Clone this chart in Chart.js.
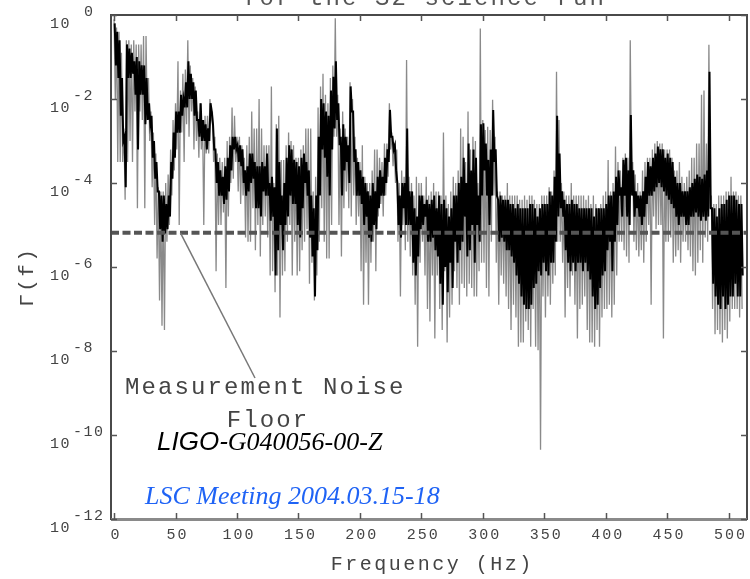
<!DOCTYPE html>
<html>
<head>
<meta charset="utf-8" />
<title>Coherence - S2 science run</title>
<script src="https://cdn.jsdelivr.net/npm/chart.js@4.4.1/dist/chart.umd.min.js"></script>
<style>
  body { margin: 0; background: #ffffff; }
  #wrap { width: 750px; height: 579px; }
</style>
</head>
<body>
<div id="wrap"><canvas id="gammaChart" width="750" height="579"></canvas></div>
<script>
// frequency bins (Hz)
const freqHz = [
  0, 2, 4, 6, 8, 10, 12, 14, 16, 18,
  20, 22, 24, 26, 28, 30, 32, 34, 36, 38,
  40, 42, 44, 46, 48, 50, 52, 54, 56, 58,
  60, 62, 64, 66, 68, 70, 72, 74, 76, 78,
  80, 82, 84, 86, 88, 90, 92, 94, 96, 98,
  100, 102, 104, 106, 108, 110, 112, 114, 116, 118,
  120, 122, 124, 126, 128, 130, 132, 134, 136, 138,
  140, 142, 144, 146, 148, 150, 152, 154, 156, 158,
  160, 162, 164, 166, 168, 170, 172, 174, 176, 178,
  180, 182, 184, 186, 188, 190, 192, 194, 196, 198,
  200, 202, 204, 206, 208, 210, 212, 214, 216, 218,
  220, 222, 224, 226, 228, 230, 232, 234, 236, 238,
  240, 242, 244, 246, 248, 250, 252, 254, 256, 258,
  260, 262, 264, 266, 268, 270, 272, 274, 276, 278,
  280, 282, 284, 286, 288, 290, 292, 294, 296, 298,
  300, 302, 304, 306, 308, 310, 312, 314, 316, 318,
  320, 322, 324, 326, 328, 330, 332, 334, 336, 338,
  340, 342, 344, 346, 348, 350, 352, 354, 356, 358,
  360, 362, 364, 366, 368, 370, 372, 374, 376, 378,
  380, 382, 384, 386, 388, 390, 392, 394, 396, 398,
  400, 402, 404, 406, 408, 410, 412, 414, 416, 418,
  420, 422, 424, 426, 428, 430, 432, 434, 436, 438,
  440, 442, 444, 446, 448, 450, 452, 454, 456, 458,
  460, 462, 464, 466, 468, 470, 472, 474, 476, 478,
  480, 482, 484, 486, 488, 490, 492, 494, 496, 498,
  500, 502, 504, 506, 508, 510
];

// log10 Gamma(f): dense black trace, upper and lower edge per bin
const coreHi = [
  -0.2, -0.4, -0.6, -1.5, -2.9, -0.7, -0.8, -0.9, -1.1, -1.0,
  -1.1, -1.2, -1.2, -1.5, -2.1, -2.4, -3.0, -3.5, -4.2, -4.3,
  -4.3, -4.5, -4.3, -3.5, -2.8, -2.3, -2.3, -1.9, -2.0, -1.6,
  -1.1, -1.4, -1.6, -1.8, -2.5, -2.1, -2.5, -2.6, -2.7, -2.1,
  -2.6, -3.2, -3.5, -3.7, -3.85, -3.6, -3.4, -3.1, -2.9, -2.9,
  -3.1, -3.1, -3.2, -3.7, -3.6, -3.3, -3.3, -3.5, -3.6, -3.6,
  -3.5, -3.6, -3.3, -4.0, -3.85, -4.1, -2.7, -3.5, -4.3, -4.0,
  -3.4, -3.1, -3.2, -3.45, -3.5, -3.6, -3.4, -3.3, -3.5, -3.7,
  -4.3, -4.6, -4.3, -2.9, -2.0, -2.1, -2.3, -2.4, -1.8, -1.47,
  -1.1, -2.1, -2.9, -2.6, -2.9, -3.1, -1.7, -2.3, -3.2, -3.5,
  -3.7, -3.85, -4.0, -4.2, -4.3, -4.0, -4.2, -3.85, -3.7, -3.85,
  -3.4, -3.2, -2.26, -2.9, -3.1, -4.0, -4.3, -4.0, -4.0, -2.7,
  -4.2, -4.2, -4.6, -4.8, -4.3, -4.3, -4.5, -4.4, -4.5, -4.4,
  -4.3, -4.6, -4.3, -4.5, -4.4, -4.6, -4.8, -4.6, -4.3, -4.3,
  -4.0, -3.85, -3.4, -4.0, -3.06, -3.7, -3.2, -3.4, -4.3, -2.6,
  -2.58, -3.06, -3.45, -3.2, -2.26, -3.2, -4.4, -4.3, -4.4, -4.4,
  -4.4, -4.5, -4.5, -4.6, -4.5, -4.6, -4.6, -4.6, -4.6, -4.5,
  -4.5, -4.6, -4.8, -4.6, -4.5, -4.5, -4.5, -4.2, -4.3, -3.85,
  -2.4, -3.3, -4.2, -4.4, -4.5, -4.5, -4.4, -4.5, -4.5, -4.6,
  -4.6, -4.6, -4.6, -4.6, -4.6, -4.8, -4.6, -4.6, -4.6, -4.6,
  -4.5, -4.3, -4.3, -4.2, -3.85, -3.7, -4.1, -3.45, -3.4, -3.7,
  -2.38, -3.7, -4.2, -4.3, -4.3, -4.2, -3.85, -3.5, -3.6, -3.4,
  -3.3, -3.13, -3.2, -3.2, -3.4, -3.3, -3.4, -3.5, -3.85, -4.0,
  -4.0, -4.2, -4.2, -4.2, -4.1, -4.0, -3.9, -3.8, -3.85, -3.9,
  -3.8, -3.7, -1.35, -4.6, -4.6, -4.8, -4.6, -4.5, -4.5, -4.4,
  -4.3, -4.3, -4.3, -4.4, -4.5, -4.5
];
const coreLo = [
  -1.2, -1.5, -2.4, -3.0, -4.1, -1.5, -1.5, -1.4, -1.9, -3.2,
  -1.9, -1.9, -2.6, -2.5, -2.6, -3.4, -3.9, -4.2, -5.1, -5.4,
  -5.2, -5.1, -4.8, -3.9, -3.4, -2.8, -2.8, -2.4, -2.2, -2.2,
  -2.0, -2.0, -2.4, -2.5, -2.9, -3.0, -3.0, -3.2, -3.0, -2.3,
  -3.2, -4.0, -4.3, -4.3, -4.5, -4.4, -4.2, -3.7, -3.2, -3.2,
  -3.5, -3.6, -4.0, -4.3, -4.2, -4.0, -3.9, -4.6, -4.6, -4.8,
  -4.2, -4.3, -4.3, -4.9, -4.8, -6.2, -5.6, -5.0, -5.6, -5.0,
  -4.8, -4.3, -4.5, -4.5, -5.0, -5.3, -4.6, -4.0, -4.3, -5.3,
  -5.75, -6.7, -5.6, -4.3, -3.2, -3.4, -3.85, -4.3, -3.2, -2.7,
  -2.5, -3.1, -4.3, -3.7, -3.5, -4.0, -2.3, -3.5, -4.3, -4.3,
  -4.5, -5.0, -4.8, -5.3, -5.4, -5.0, -5.1, -4.6, -4.3, -4.3,
  -4.0, -3.5, -2.9, -3.2, -3.7, -5.0, -5.3, -4.6, -5.0, -5.0,
  -5.0, -5.9, -6.2, -5.75, -5.1, -5.0, -4.8, -5.4, -5.4, -5.3,
  -5.6, -5.75, -6.4, -6.9, -6.0, -6.6, -5.9, -6.5, -5.4, -5.9,
  -5.6, -5.4, -4.8, -5.75, -5.6, -5.0, -5.9, -5.0, -5.4, -4.3,
  -3.7, -4.3, -5.0, -4.3, -3.5, -4.3, -5.4, -5.3, -5.4, -5.6,
  -5.6, -5.75, -5.9, -6.2, -6.4, -6.7, -6.9, -7.0, -7.0, -6.9,
  -6.5, -6.4, -6.1, -6.2, -5.9, -6.1, -6.2, -5.9, -5.9, -5.4,
  -4.8, -4.6, -4.8, -5.6, -5.9, -6.1, -5.9, -6.1, -5.9, -5.9,
  -6.1, -5.9, -6.1, -6.3, -6.7, -7.0, -6.9, -6.5, -6.2, -6.1,
  -5.6, -5.4, -6.1, -5.4, -5.0, -4.3, -4.8, -4.3, -4.8, -5.0,
  -4.3, -4.8, -4.6, -4.8, -5.0, -4.8, -4.5, -4.3, -4.3, -4.2,
  -4.1, -4.0, -4.1, -4.2, -4.3, -4.4, -4.5, -4.6, -4.8, -5.0,
  -4.8, -4.8, -5.0, -5.0, -4.8, -4.8, -4.7, -4.8, -4.9, -4.8,
  -4.9, -4.8, -4.6, -6.4, -6.7, -6.9, -7.0, -6.7, -7.0, -6.9,
  -6.7, -6.7, -6.4, -6.7, -6.7, -6.2
];

// log10 Gamma(f): grey outliers around the trace, upper and lower edge per bin
const spreadHi = [
  -0.1, -0.3, -0.4, -0.9, -2.7, -0.6, -0.6, -0.7, -0.6, -0.7,
  -0.7, -0.7, -0.5, -0.5, -1.5, -2.3, -2.8, -3.3, -4.1, -4.2,
  -4.2, -4.0, -3.8, -3.2, -2.5, -2.1, -1.1, -1.8, -1.4, -1.3,
  -0.6, -1.2, -1.5, -1.7, -2.3, -2.1, -2.5, -2.4, -2.4, -2.0,
  -2.3, -2.9, -3.3, -3.4, -3.5, -3.4, -3.0, -2.9, -2.2, -2.4,
  -2.9, -2.9, -3.1, -3.4, -3.1, -2.9, -2.3, -2.7, -2.7, -2.0,
  -2.7, -3.1, -3.1, -3.1, -1.7, -4.0, -2.6, -2.4, -3.45, -3.45,
  -3.1, -2.8, -3.0, -3.1, -3.4, -3.4, -3.2, -3.1, -2.7, -2.7,
  -2.7, -4.2, -3.85, -2.2, -1.7, -1.4, -1.9, -2.1, -1.5, -1.2,
  -0.08, -1.9, -2.7, -2.3, -2.7, -2.9, -1.6, -2.0, -2.9, -3.4,
  -3.5, -3.1, -3.85, -4.0, -4.0, -3.7, -3.2, -3.2, -3.4, -3.5,
  -3.06, -3.06, -2.1, -2.8, -3.06, -3.2, -4.0, -3.7, -3.85, -1.07,
  -3.85, -4.0, -4.3, -3.85, -4.0, -4.0, -4.3, -3.85, -4.3, -4.2,
  -4.0, -4.2, -4.2, -4.3, -2.8, -4.3, -4.5, -4.2, -3.85, -4.0,
  -3.7, -2.7, -2.9, -3.5, -2.3, -3.2, -2.9, -3.0, -4.0, -0.32,
  -2.5, -2.74, -2.66, -2.74, -2.02, -2.9, -4.2, -4.2, -4.3, -4.3,
  -4.0, -4.3, -4.3, -4.3, -4.3, -4.4, -4.4, -4.3, -4.4, -4.3,
  -4.3, -4.4, -4.5, -4.5, -4.3, -4.3, -4.3, -4.1, -4.2, -3.7,
  -1.35, -2.5, -4.0, -4.2, -4.3, -4.3, -4.0, -4.3, -4.3, -4.3,
  -4.3, -4.3, -4.4, -4.3, -4.5, -4.3, -4.5, -4.6, -4.5, -4.3,
  -4.2, -3.45, -4.2, -4.0, -3.13, -3.5, -3.7, -3.4, -3.3, -3.4,
  -0.6, -3.5, -3.8, -4.0, -4.2, -3.7, -3.5, -3.4, -3.4, -3.2,
  -3.06, -3.0, -3.06, -3.06, -3.2, -3.2, -3.2, -3.4, -3.7, -3.7,
  -3.5, -3.85, -4.0, -3.85, -3.7, -3.4, -3.4, -3.06, -3.06, -1.9,
  -1.8, -3.06, -0.71, -4.3, -4.5, -4.5, -4.3, -4.3, -4.3, -4.2,
  -4.2, -3.85, -4.2, -4.2, -4.3, -4.3
];
const spreadLo = [
  -2.0, -3.5, -3.5, -3.5, -4.4, -3.5, -3.0, -3.5, -2.3, -4.6,
  -2.3, -2.5, -4.6, -2.5, -3.0, -4.1, -5.0, -5.8, -6.8, -7.4,
  -7.5, -5.4, -5.0, -4.3, -3.7, -3.2, -5.0, -2.8, -3.5, -2.6,
  -2.9, -2.3, -3.2, -3.0, -3.4, -3.2, -5.0, -3.3, -3.3, -2.5,
  -3.5, -6.1, -5.0, -5.0, -4.7, -6.5, -4.8, -4.0, -3.9, -3.5,
  -4.2, -4.5, -4.3, -5.3, -5.4, -5.4, -4.6, -5.6, -5.0, -5.75,
  -5.0, -4.8, -5.3, -6.2, -6.1, -6.6, -6.2, -7.2, -6.2, -6.1,
  -5.4, -5.0, -6.2, -5.4, -6.2, -6.1, -5.6, -5.4, -5.1, -6.4,
  -5.9, -6.8, -6.2, -5.4, -4.6, -5.4, -5.8, -5.8, -5.0, -2.9,
  -2.9, -5.0, -5.75, -4.6, -4.2, -4.6, -4.8, -4.3, -5.0, -4.8,
  -6.1, -6.9, -5.9, -6.9, -5.9, -5.4, -6.1, -4.8, -4.5, -4.8,
  -4.3, -3.85, -3.2, -3.6, -4.0, -5.4, -6.7, -5.0, -5.6, -5.4,
  -5.75, -6.2, -6.9, -7.9, -5.9, -5.4, -6.2, -7.0, -7.3, -6.2,
  -7.7, -6.2, -7.0, -7.5, -6.1, -7.8, -7.2, -6.9, -6.1, -6.5,
  -6.9, -6.4, -6.5, -6.7, -6.4, -6.5, -6.7, -6.7, -6.1, -5.9,
  -5.9, -6.5, -6.7, -5.4, -4.3, -5.9, -6.9, -6.2, -6.4, -6.7,
  -7.0, -7.5, -6.9, -7.2, -7.9, -7.8, -7.8, -7.3, -7.5, -7.9,
  -7.0, -7.9, -7.98, -10.35, -6.7, -7.2, -6.7, -6.9, -6.4, -6.2,
  -5.4, -5.4, -5.9, -7.2, -6.5, -6.7, -6.2, -6.9, -7.7, -7.0,
  -6.9, -6.7, -7.5, -7.8, -7.8, -7.9, -7.5, -7.9, -7.2, -7.0,
  -7.0, -6.9, -7.2, -6.9, -6.2, -5.4, -5.4, -5.6, -5.75, -5.9,
  -3.85, -5.4, -5.6, -5.75, -5.6, -5.9, -5.4, -5.0, -6.9, -4.8,
  -5.1, -5.0, -5.0, -7.7, -5.4, -5.4, -5.3, -5.9, -5.75, -5.6,
  -5.9, -5.4, -5.4, -5.6, -5.75, -6.1, -6.2, -5.9, -5.6, -5.9,
  -5.3, -5.4, -4.6, -7.0, -7.6, -7.5, -7.6, -7.8, -7.5, -7.7,
  -7.3, -7.0, -7.0, -7.0, -7.2, -7.0
];

const noiseFloor = 6.5e-6;
const xTicks = [0, 50, 100, 150, 200, 250, 300, 350, 400, 450, 500];
const yTickExp = [0, -2, -4, -6, -8, -10, -12];

// each bin becomes an up/down stroke between its two edges
function strokes(hi, lo, shift) {
  const pts = [];
  freqHz.forEach((f, i) => {
    pts.push({ x: f + shift, y: Math.pow(10, hi[i]) });
    pts.push({ x: f + shift + 1, y: Math.pow(10, lo[i]) });
  });
  return pts;
}

const MONO = '"Liberation Mono", "DejaVu Sans Mono", monospace';

function label(ctx, s, x, y, font, color, align, spacing) {
  ctx.save();
  ctx.font = font;
  ctx.fillStyle = color;
  ctx.textAlign = align || 'left';
  ctx.textBaseline = 'middle';
  ctx.letterSpacing = (spacing || 0) + 'px';
  ctx.fillText(s, align === 'center' ? x + (spacing || 0) / 2 : x, y);
  ctx.restore();
}

const decorations = {
  id: 'decorations',
  afterDraw(chart) {
    const { ctx, chartArea: a } = chart;
    const xs = chart.scales.x, ys = chart.scales.y;

    // frame
    ctx.save();
    ctx.strokeStyle = '#4a4a4a';
    ctx.lineWidth = 2;
    ctx.strokeRect(a.left, a.top, a.right - a.left, a.bottom - a.top);
    ctx.strokeStyle = '#8a8a8a';
    ctx.lineWidth = 3;
    ctx.beginPath();
    ctx.moveTo(a.left, a.bottom + 0.5);
    ctx.lineTo(a.right, a.bottom + 0.5);
    ctx.stroke();

    // inward ticks
    ctx.strokeStyle = '#555';
    ctx.lineWidth = 1.5;
    ctx.beginPath();
    xTicks.forEach(v => {
      const px = Math.round(xs.getPixelForValue(v)) + 0.5;
      ctx.moveTo(px, a.top); ctx.lineTo(px, a.top + 6);
      ctx.moveTo(px, a.bottom); ctx.lineTo(px, a.bottom - 6);
    });
    yTickExp.forEach(e => {
      const py = Math.round(ys.getPixelForValue(Math.pow(10, e))) + 0.5;
      ctx.moveTo(a.left, py); ctx.lineTo(a.left + 6, py);
      ctx.moveTo(a.right, py); ctx.lineTo(a.right - 6, py);
    });
    ctx.stroke();
    ctx.restore();

    // tick labels
    const tickFont = '15px ' + MONO;
    xTicks.forEach(v => {
      label(ctx, String(v), xs.getPixelForValue(v) + 1, 535, tickFont, '#444', 'center', 2);
    });
    yTickExp.forEach(e => {
      const py = ys.getPixelForValue(Math.pow(10, e));
      label(ctx, '10', 50, py + 9, tickFont, '#444', 'left', 1.5);
      label(ctx, String(e), e === 0 ? 84 : 73, py - 3, tickFont, '#444', 'left', 1.5);
    });

    // axis titles and clipped title
    label(ctx, 'Frequency (Hz)', 431, 565, '20px ' + MONO, '#444', 'center', 2.5);
    ctx.save();
    ctx.translate(27, 278);
    ctx.rotate(-Math.PI / 2);
    label(ctx, '\u0393(f)', 0, 0, '21px ' + MONO, '#444', 'center', 2.4);
    ctx.restore();
    ctx.save();
    ctx.font = '24px ' + MONO;
    ctx.fillStyle = '#555';
    ctx.letterSpacing = '2.1px';
    ctx.textBaseline = 'alphabetic';
    ctx.fillText('for the S2 science run', 243, 5);
    ctx.restore();

    // noise floor annotation
    ctx.save();
    ctx.strokeStyle = '#777';
    ctx.lineWidth = 1.5;
    ctx.beginPath();
    ctx.moveTo(xs.getPixelForValue(54), ys.getPixelForValue(noiseFloor));
    ctx.lineTo(255, 378);
    ctx.stroke();
    ctx.restore();
    label(ctx, 'Measurement Noise', 125, 388, '24px ' + MONO, '#444', 'left', 2.1);
    label(ctx, 'Floor', 267, 421, '24px ' + MONO, '#444', 'center', 2.1);

    // document stamps
    ctx.save();
    ctx.textBaseline = 'middle';
    ctx.fillStyle = '#000';
    ctx.font = 'italic 26px "Liberation Sans", Arial, sans-serif';
    ctx.fillText('LIGO-', 157, 443);
    const w = ctx.measureText('LIGO-').width;
    ctx.font = 'italic 26px "Liberation Serif", "Times New Roman", serif';
    ctx.fillText('G040056-00-Z', 157 + w, 443);
    ctx.fillStyle = '#1f63f5';
    ctx.fillText('LSC Meeting 2004.03.15-18', 145, 497);
    ctx.restore();
  }
};

new Chart(document.getElementById('gammaChart'), {
  type: 'line',
  data: {
    datasets: [
      {
        data: [{ x: -2.5, y: noiseFloor }, { x: 515, y: noiseFloor }],
        borderColor: '#555',
        borderWidth: 4,
        borderDash: [8, 3.5],
        pointRadius: 0,
        order: 0
      },
      {
        data: strokes(coreHi, coreLo, 0.5),
        borderColor: '#000',
        borderWidth: 2,
        pointRadius: 0,
        order: 1
      },
      {
        data: strokes(spreadHi, spreadLo, 0),
        borderColor: '#8a8a8a',
        borderWidth: 1.3,
        pointRadius: 0,
        order: 2
      }
    ]
  },
  options: {
    responsive: false,
    animation: false,
    layout: { padding: { left: 111, right: 3, top: 15, bottom: 60 } },
    scales: {
      x: { type: 'linear', min: -2.5, max: 515, display: false },
      y: { type: 'logarithmic', min: 1e-12, max: 1, display: false }
    },
    plugins: {
      legend: { display: false },
      tooltip: { enabled: false }
    }
  },
  plugins: [decorations]
});
</script>
</body>
</html>
